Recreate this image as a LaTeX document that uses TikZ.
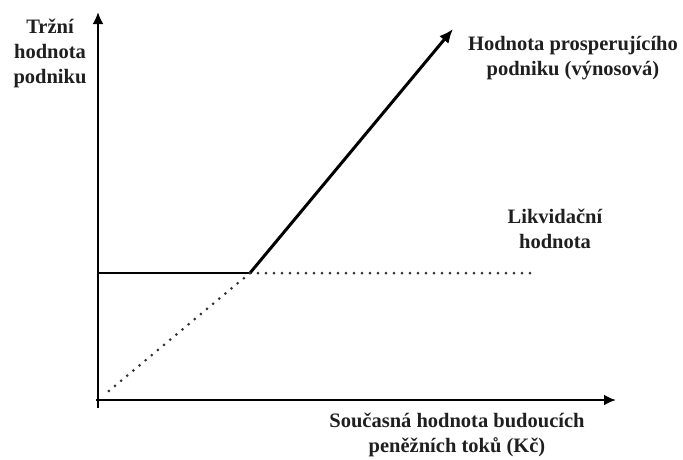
\documentclass[tikz,border=0pt]{standalone}
\usepackage{fontspec}
\setmainfont{Liberation Serif}
\usetikzlibrary{arrows.meta}
\begin{document}
\begin{tikzpicture}[x=1pt,y=-1pt,
  axis/.style={line width=2.4pt,-{Latex[length=12pt,width=11pt]}},
  lbl/.style={align=center,font=\fontsize{20.5}{25}\selectfont\bfseries,inner sep=0pt,anchor=base,text=black!88},
  dots/.style={line width=3pt,line cap=round,dash pattern=on 0pt off 8pt,black!80}]
\useasboundingbox (0,0) rectangle (683,459);
\coordinate (O) at (98,400);
\coordinate (ytop) at (98,12);
\coordinate (ybot) at (98,408);
\coordinate (xend) at (616,400);
\coordinate (K) at (250,273);
\coordinate (L) at (98,273);
\coordinate (Lend) at (530,273);
\coordinate (P) at (453,29);
\draw[axis] (ybot) -- (ytop);
\draw[axis] (96,400) -- (xend);
\draw[line width=2.4pt] (L) -- (K);
\draw[line width=3pt,-{Latex[length=14pt,width=12pt]}] (K) -- (P);
\draw[dots,shorten >=8pt] (K) -- (O);
\draw[dots] (K) -- (Lend);
\node[lbl] (ylab) at (50,83) {Tržní\\hodnota\\podniku};
\node[lbl] (plab) at (573,75) {Hodnota prosperujícího\\podniku (výnosová)};
\node[lbl] (llab) at (555,248) {Likvidační\\hodnota};
\node[lbl] (xlab) at (457,452) {Současná hodnota budoucích\\peněžních toků (Kč)};
\end{tikzpicture}
\end{document}
